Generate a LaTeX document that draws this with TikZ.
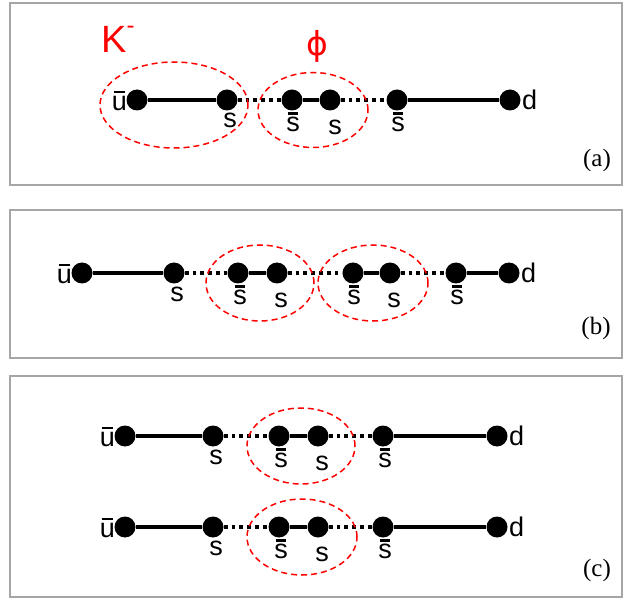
\documentclass[tikz,border=0pt]{standalone}
\usepackage{fontspec}
\setmainfont{Liberation Sans}
\newfontfamily\serifp{Liberation Serif}
\newfontfamily\greekf{DejaVu Sans}
\usetikzlibrary{shapes.geometric}
\newcommand{\ubar}{\makebox[0pt][l]{\hspace{0.07em}\rule[0.64em]{0.42em}{2.2pt}}u}
\newcommand{\sbar}{\makebox[0pt][l]{\hspace{0.08em}\rule[0.61em]{0.34em}{3pt}}s}
\tikzset{
  quark/.style={circle,fill=black,inner sep=0pt,minimum size=21pt},
  qlab/.style={inner sep=0pt,font=\fontsize{27}{30}\selectfont},
  strg/.style={line width=3.4pt},
  dotl/.style={line width=3.8pt,dash pattern=on 3.8pt off 4pt},
  hadron/.style={ellipse,draw=red,line width=1.5pt,dash pattern=on 6pt off 4pt,inner sep=0pt},
  panel/.style={draw=black!35,line width=2pt},
  plab/.style={font=\serifp\fontsize{25}{28}\selectfont,inner sep=0pt},
}
\begin{document}
\begin{tikzpicture}[x=1pt,y=-1pt]
\useasboundingbox (0,0) rectangle (627,604);
% panels
\draw[panel] (10,3) rectangle (622,185);
\draw[panel] (10,210) rectangle (622,358);
\draw[panel] (10,376) rectangle (622,597);
\node[plab] (la) at (597,160) {(a)};
\node[plab] (lb) at (596,328) {(b)};
\node[plab] (lc) at (597,570) {(c)};
% ---------- (a)
\node[quark] (a1) at (137,100) {};
\node[quark] (a2) at (227,100) {};
\node[quark] (a3) at (292,100) {};
\node[quark] (a4) at (330,100) {};
\node[quark] (a5) at (397,100) {};
\node[quark] (a6) at (510,100) {};
\draw[strg] (a1) -- (a2);
\draw[dotl] (a2) -- (a3);
\draw[strg] (a3) -- (a4);
\draw[dotl] (a4) -- (a5);
\draw[strg] (a5) -- (a6);
\node[qlab,anchor=east] (ta1) at (127,101) {\ubar};
\node[qlab] (ta2) at (230,120) {s};
\node[qlab] (ta3) at (293,122) {\sbar};
\node[qlab] (ta4) at (335,127) {s};
\node[qlab] (ta5) at (398,122) {\sbar};
\node[qlab,anchor=west] (ta6) at (522,100) {d};
\node[hadron,minimum width=148pt,minimum height=86pt] (ka) at (174,105) {};
\node[hadron,minimum width=110pt,minimum height=75pt] (pa) at (313,110) {};
\node[inner sep=0pt,text=red,font=\fontsize{38}{42}\selectfont] (kl) at (118,39) {K\raisebox{0.5em}{\fontsize{24}{26}\selectfont-}};
\node[inner sep=0pt,text=red,font=\greekf\fontsize{33}{36}\selectfont] (phl) at (317,46) {ϕ};
% ---------- (b)
\node[quark] (b1) at (82,273) {};
\node[quark] (b2) at (174,273) {};
\node[quark] (b3) at (238,273) {};
\node[quark] (b4) at (277,273) {};
\node[quark] (b5) at (353,273) {};
\node[quark] (b6) at (390,273) {};
\node[quark] (b7) at (456,273) {};
\node[quark] (b8) at (509,273) {};
\draw[strg] (b1) -- (b2);
\draw[dotl] (b2) -- (b3);
\draw[strg] (b3) -- (b4);
\draw[dotl] (b4) -- (b5);
\draw[strg] (b5) -- (b6);
\draw[dotl] (b6) -- (b7);
\draw[strg] (b7) -- (b8);
\node[qlab,anchor=east] (tb1) at (72,274) {\ubar};
\node[qlab] (tb2) at (177,294) {s};
\node[qlab] (tb3) at (240,295) {\sbar};
\node[qlab] (tb4) at (281,300) {s};
\node[qlab] (tb5) at (354,295) {\sbar};
\node[qlab] (tb6) at (394,300) {s};
\node[qlab] (tb7) at (457,295) {\sbar};
\node[qlab,anchor=west] (tb8) at (521,273) {d};
\node[hadron,minimum width=108pt,minimum height=76pt] (pb1) at (260,283) {};
\node[hadron,minimum width=110pt,minimum height=76pt] (pb2) at (373,283) {};
% ---------- (c)
\foreach \r/\y in {1/436,2/527}{
  \node[quark] (c\r1) at (125,\y) {};
  \node[quark] (c\r2) at (213,\y) {};
  \node[quark] (c\r3) at (279,\y) {};
  \node[quark] (c\r4) at (318,\y) {};
  \node[quark] (c\r5) at (383,\y) {};
  \node[quark] (c\r6) at (497,\y) {};
  \draw[strg] (c\r1) -- (c\r2);
  \draw[dotl] (c\r2) -- (c\r3);
  \draw[strg] (c\r3) -- (c\r4);
  \draw[dotl] (c\r4) -- (c\r5);
  \draw[strg] (c\r5) -- (c\r6);
  \node[qlab,anchor=east] (tc\r1) at (115,\y+1) {\ubar};
  \node[qlab] (tc\r2) at (216,\y+21) {s};
  \node[qlab] (tc\r3) at (281,\y+22) {\sbar};
  \node[qlab] (tc\r4) at (322,\y+27) {s};
  \node[qlab] (tc\r5) at (385,\y+22) {\sbar};
  \node[qlab,anchor=west] (tc\r6) at (509,\y) {d};
}
\node[hadron,minimum width=108pt,minimum height=76pt] (pc1) at (301,446) {};
\node[hadron,minimum width=110pt,minimum height=76pt] (pc2) at (302,537) {};
\end{tikzpicture}
\end{document}
